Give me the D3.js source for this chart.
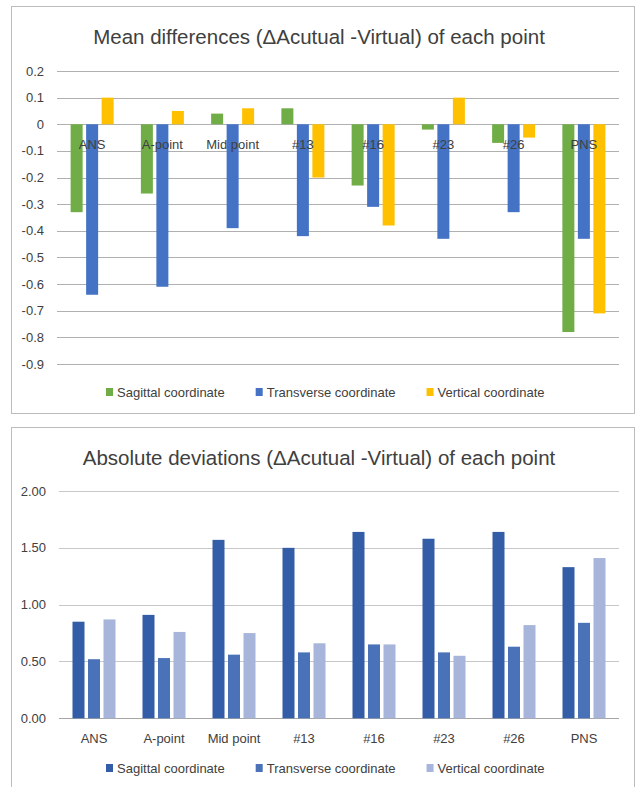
<!DOCTYPE html>
<html>
<head>
<meta charset="utf-8">
<script src="https://cdn.jsdelivr.net/npm/d3@7"></script>
<style>
  body { margin: 0; background: #fff; }
  text { font-family: "Liberation Sans", Arial, sans-serif; fill: #404040; }
</style>
</head>
<body>
<script>
const categories = ["ANS", "A-point", "Mid point", "#13", "#16", "#23", "#26", "PNS"]
const series = ["Sagittal coordinate", "Transverse coordinate", "Vertical coordinate"]

// mean differences (top chart)
const meanSagittal   = [-0.33, -0.26, 0.04, 0.06, -0.23, -0.02, -0.07, -0.78]
const meanTransverse = [-0.64, -0.61, -0.39, -0.42, -0.31, -0.43, -0.33, -0.43]
const meanVertical   = [0.10, 0.05, 0.06, -0.20, -0.38, 0.10, -0.05, -0.71]
const meanTicks = [0.2, 0.1, 0, -0.1, -0.2, -0.3, -0.4, -0.5, -0.6, -0.7, -0.8, -0.9]

// absolute deviations (bottom chart)
const absSagittal   = [0.85, 0.91, 1.57, 1.50, 1.64, 1.58, 1.64, 1.33]
const absTransverse = [0.52, 0.53, 0.56, 0.58, 0.65, 0.58, 0.63, 0.84]
const absVertical   = [0.87, 0.76, 0.75, 0.66, 0.65, 0.55, 0.82, 1.41]
const absTicks = [0, 0.5, 1, 1.5, 2]

const W = 638, H = 787

const svg = d3.select("body").append("svg")
  .attr("width", W)
  .attr("height", H)

function drawChart(opts) {
  const g = svg.append("g")
  const rows = categories.map((c, i) => ({
    cat: c,
    vals: series.map((s, j) => ({ s: s, v: opts.values[j][i] }))
  }))

  // panel border
  g.append("rect")
    .attr("x", 11.5).attr("y", opts.top + 0.5)
    .attr("width", 623).attr("height", opts.panelH)
    .attr("fill", "#fff")
    .attr("stroke", "#bcbcbc")
    .attr("stroke-width", 1)

  g.append("text")
    .attr("x", 319).attr("y", opts.titleY)
    .attr("text-anchor", "middle")
    .style("font-size", "20.5px")
    .text(opts.title)

  const y = d3.scaleLinear().domain(opts.domain).range(opts.yRange)
  const x0 = d3.scaleBand().domain(categories).range(opts.xRange)
  const x1 = d3.scaleBand().domain(series).range([0, 43]).paddingInner(0.226)
  const off = x0.bandwidth() / 2 - 21.5

  // gridlines
  g.append("g").selectAll("line")
    .data(opts.ticks)
    .join("line")
    .attr("x1", opts.xRange[0]).attr("x2", opts.xRange[1])
    .attr("y1", d => Math.round(y(d)) + 0.5)
    .attr("y2", d => Math.round(y(d)) + 0.5)
    .attr("stroke", d => d === 0 ? opts.zeroColor : opts.gridColor)
    .attr("stroke-width", 1)

  // y tick labels
  g.append("g").selectAll("text")
    .data(opts.ticks)
    .join("text")
    .attr("x", opts.labelX)
    .attr("y", d => y(d) + 4.5)
    .attr("text-anchor", "end")
    .style("font-size", "13px")
    .text(opts.fmt)

  // bars
  g.append("g").selectAll("g")
    .data(rows)
    .join("g")
    .attr("transform", d => `translate(${x0(d.cat) + off},0)`)
    .selectAll("rect")
    .data(d => d.vals)
    .join("rect")
    .attr("x", d => x1(d.s))
    .attr("width", x1.bandwidth())
    .attr("y", d => y(Math.max(0, d.v)))
    .attr("height", d => Math.abs(y(d.v) - y(0)))
    .attr("fill", (d, i) => opts.colors[i])

  // category labels
  g.append("g").selectAll("text")
    .data(categories)
    .join("text")
    .attr("x", d => x0(d) + x0.bandwidth() / 2)
    .attr("y", opts.catY)
    .attr("text-anchor", "middle")
    .style("font-size", "13px")
    .text(d => d)

  // legend
  const leg = g.append("g")
  let cx = 0
  series.forEach((s, i) => {
    const it = leg.append("g").attr("transform", `translate(${cx},0)`)
    it.append("rect")
      .attr("x", 0).attr("y", -4)
      .attr("width", 7).attr("height", 8)
      .attr("fill", opts.colors[i])
    const t = it.append("text")
      .attr("x", 11).attr("y", 4.5)
      .style("font-size", "13px")
      .text(s)
    cx += 11 + t.node().getComputedTextLength() + 31
  })
  leg.attr("transform", `translate(106,${opts.legendY})`)
}

drawChart({
  top: 6,
  panelH: 407,
  title: "Mean differences (\u0394Acutual -Virtual) of each point",
  titleY: 44,
  values: [meanSagittal, meanTransverse, meanVertical],
  domain: [-0.9, 0.2],
  yRange: [364, 71],
  xRange: [57, 619],
  ticks: meanTicks,
  fmt: d => d3.format(".1~f")(d).replace("−", "-"),
  labelX: 44,
  catY: 148.5,
  legendY: 392,
  colors: ["#70AD47", "#4472C4", "#FFC000"],
  gridColor: "#b0b0b0",
  zeroColor: "#b0b0b0"
})

drawChart({
  top: 427,
  panelH: 400,
  title: "Absolute deviations (\u0394Acutual -Virtual) of each point",
  titleY: 465,
  values: [absSagittal, absTransverse, absVertical],
  domain: [0, 2],
  yRange: [718.3, 491],
  xRange: [59, 619],
  ticks: absTicks,
  fmt: d => d3.format(".2f")(d),
  labelX: 46,
  catY: 742.5,
  legendY: 768,
  colors: ["#345DA7", "#4A72B9", "#A7B5DA"],
  gridColor: "#c8c8c8",
  zeroColor: "#a6a6a6"
})
</script>
</body>
</html>
